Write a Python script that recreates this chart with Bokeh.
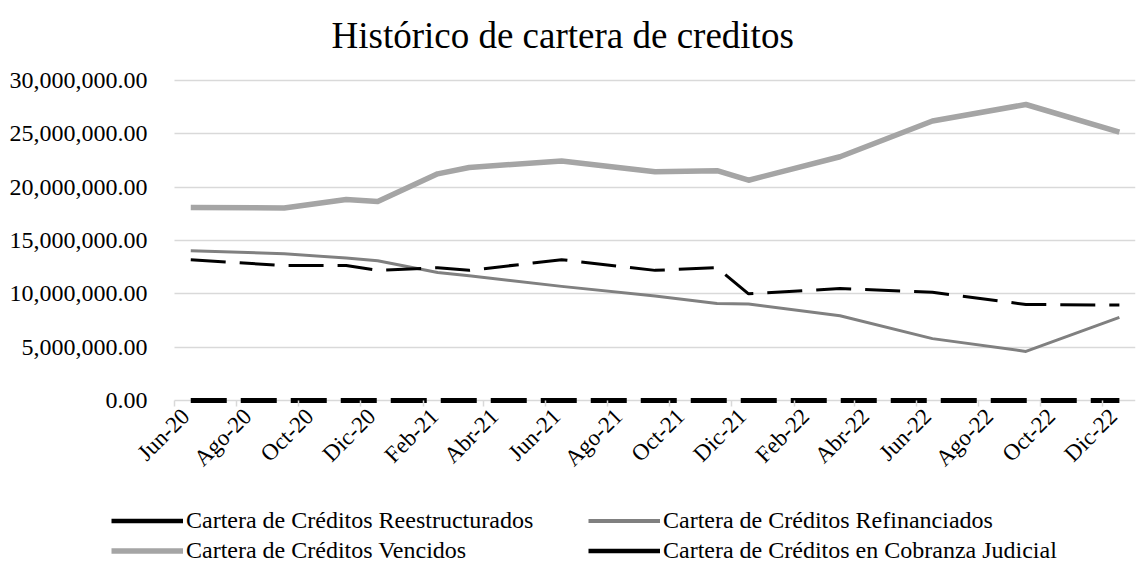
import math
import pandas as pd
from bokeh.plotting import figure
from bokeh.models import (Range1d, FixedTicker, NumeralTickFormatter, Legend, LegendItem,
                          Title)
from bokeh.embed import file_html
from bokeh.resources import INLINE

# ---------------- data ----------------
fechas = ["2020-06-30", "2020-09-30", "2020-11-30", "2020-12-31", "2021-02-28",
          "2021-03-31", "2021-06-30", "2021-09-30", "2021-11-30", "2021-12-31",
          "2022-03-31", "2022-06-30", "2022-09-30", "2022-12-31"]

reestructurados = [0, 0, 0, 0, 0, 0, 0, 0, 0, 0, 0, 0, 0, 0]
refinanciados = [14050000, 13750000, 13350000, 13100000, 12000000, 11700000, 10700000,
                 9800000, 9100000, 9050000, 7950000, 5800000, 4600000, 7800000]
vencidos = [18100000, 18050000, 18850000, 18650000, 21250000, 21850000, 22450000,
            21450000, 21550000, 20650000, 22850000, 26200000, 27750000, 25150000]
cobranza_judicial = [13200000, 12650000, 12650000, 12200000, 12450000, 12200000, 13200000,
                     12200000, 12450000, 10000000, 10500000, 10150000, 9000000, 8950000]

etiquetas_x = ["Jun-20", "Ago-20", "Oct-20", "Dic-20", "Feb-21", "Abr-21", "Jun-21", "Ago-21",
               "Oct-21", "Dic-21", "Feb-22", "Abr-22", "Jun-22", "Ago-22", "Oct-22", "Dic-22"]

ticks_y = [0, 5000000, 10000000, 15000000, 20000000, 25000000, 30000000]

nombres = ["Cartera de Créditos Reestructurados", "Cartera de Créditos Refinanciados",
           "Cartera de Créditos Vencidos", "Cartera de Créditos en Cobranza Judicial"]

titulo = "Histórico de cartera de creditos"

# ---------------- layout constants ----------------
FONT = "Liberation Serif"
EPOCH = pd.Timestamp("1970-01-01")


def dia(ts):
    return int((pd.Timestamp(ts) - EPOCH).days)


x = [dia(f) for f in fechas]

W, H = 1136, 577
FRAME_TOP = 60           # top of the drawing frame
TOP = 80                 # pixel of the 30M gridline
AX_LEFT = 174            # pixel where the date axis starts
ZERO_Y = 400             # pixel of the 0 line
PX_PER_DAY = 1.016
Y_MAX = 30000000
PX_PER_UNIT = (ZERO_Y - TOP) / Y_MAX

inicio = pd.Timestamp("2020-06-14")
x0 = dia(inicio)
x_lo = x0 - AX_LEFT / PX_PER_DAY
x_hi = x0 + (W - 1 - AX_LEFT) / PX_PER_DAY
y_lo = -(H - ZERO_Y) / PX_PER_UNIT
y_hi = Y_MAX + (TOP - FRAME_TOP) / PX_PER_UNIT

marcas = [dia(inicio + pd.DateOffset(months=2 * i)) for i in range(len(etiquetas_x))]
pos_etiquetas = [m + 11 for m in marcas]

p = figure(width=W, height=H, output_backend="svg", toolbar_location=None, title=None,
           x_range=Range1d(x_lo, x_hi), y_range=Range1d(y_lo, y_hi),
           min_border_left=0, min_border_right=1, min_border_top=FRAME_TOP,
           min_border_bottom=0)

p.background_fill_color = "white"
p.border_fill_color = "white"
p.outline_line_color = None

# title
p.add_layout(Title(text=titulo, text_font=FONT, text_font_size="37px",
                   text_font_style="normal", text_color="black",
                   align="left", offset=331, standoff=10), "above")

# y axis, drawn at the start of the date axis
p.yaxis.fixed_location = x0
p.yaxis.ticker = FixedTicker(ticks=ticks_y)
p.yaxis.formatter = NumeralTickFormatter(format="0,0.00")
p.yaxis.axis_line_color = None
p.yaxis.major_tick_line_color = None
p.yaxis.minor_tick_line_color = None
p.yaxis.major_tick_out = 0
p.yaxis.major_tick_in = 0
p.yaxis.major_label_standoff = 27
p.yaxis.major_label_text_font = FONT
p.yaxis.major_label_text_font_size = "24px"
p.yaxis.major_label_text_color = "black"

# x axis, drawn on the 0 line
p.xaxis.fixed_location = 0
p.xaxis.bounds = (x0, x_hi)
p.xaxis.ticker = FixedTicker(ticks=pos_etiquetas, minor_ticks=marcas)
p.xaxis.major_label_overrides = {pe: lab for pe, lab in zip(pos_etiquetas, etiquetas_x)}
p.xaxis.major_label_orientation = math.pi / 4
p.xaxis.major_tick_line_color = None
p.xaxis.major_tick_out = 0
p.xaxis.major_tick_in = 0
p.xaxis.minor_tick_line_color = "#d9d9d9"
p.xaxis.minor_tick_line_width = 1.5
p.xaxis.minor_tick_out = 6
p.xaxis.minor_tick_in = 0
p.xaxis.axis_line_color = None
p.xaxis.major_label_standoff = 6
p.xaxis.major_label_text_font = FONT
p.xaxis.major_label_text_font_size = "23px"
p.xaxis.major_label_text_color = "black"

p.xgrid.grid_line_color = None
p.ygrid.grid_line_color = "#d9d9d9"
p.ygrid.grid_line_width = 1.3
try:
    p.ygrid.cross_bounds = (x0, x_hi)
except Exception:
    pass

# series
r_venc = p.line(x, vencidos, line_color="#a5a5a5", line_width=5.5, line_join="round")
r_refi = p.line(x, refinanciados, line_color="#808080", line_width=3, line_join="round")
r_cob = p.line(x, cobranza_judicial, line_color="black", line_width=3, line_dash="35 14")
r_rees = p.line(x, reestructurados, line_color="black", line_width=5, line_dash="36 14")

# solid swatches for the legend (single-point lines draw nothing on the plot;
# the reference legend shows plain solid lines)
sw_rees = p.line(x[:1], reestructurados[:1], line_color="black", line_width=4.5)
sw_refi = p.line(x[:1], refinanciados[:1], line_color="#808080", line_width=4)
sw_cob = p.line(x[:1], cobranza_judicial[:1], line_color="black", line_width=4.5)


def make_legend(items, loc):
    return Legend(items=items, location=loc, orientation="vertical",
                  label_text_font=FONT, label_text_font_size="24px",
                  label_text_color="black", label_standoff=3,
                  glyph_width=72, glyph_height=27, label_height=27,
                  spacing=3, padding=0, margin=0,
                  border_line_color=None, background_fill_alpha=0)


LEG_Y = 13
leg_a = make_legend([LegendItem(label=nombres[0], renderers=[sw_rees]),
                     LegendItem(label=nombres[2], renderers=[r_venc])], (111, LEG_Y))
leg_b = make_legend([LegendItem(label=nombres[1], renderers=[sw_refi]),
                     LegendItem(label=nombres[3], renderers=[sw_cob])], (588, LEG_Y))
p.add_layout(leg_a, "center")
p.add_layout(leg_b, "center")

open("out.html", "w").write(file_html(p, INLINE))
